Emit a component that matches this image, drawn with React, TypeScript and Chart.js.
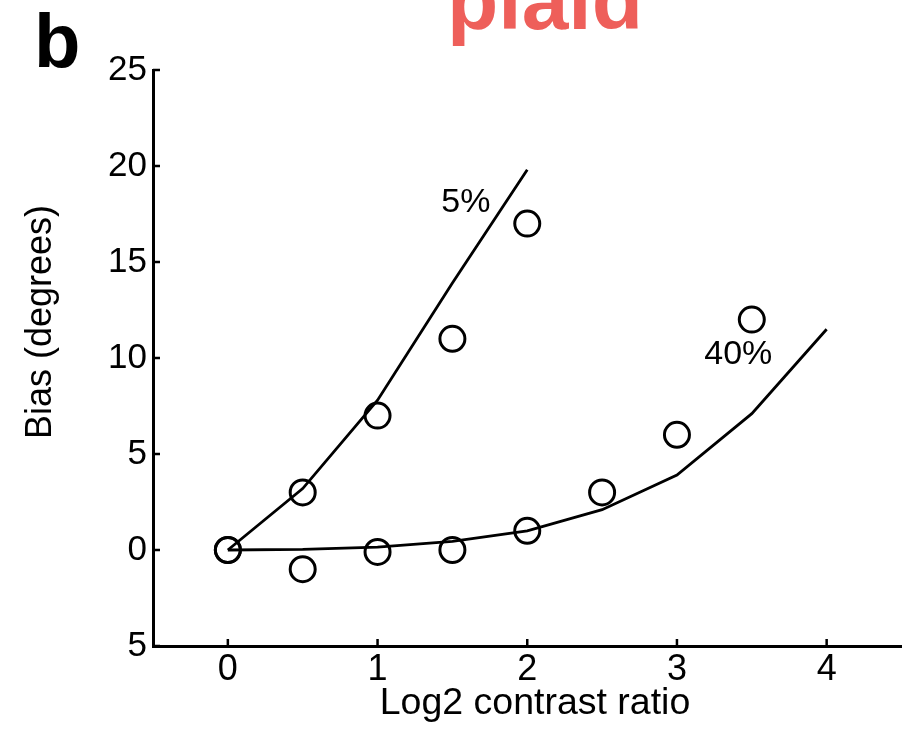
import React, { useEffect, useRef } from "react";
import { Chart, registerables } from "chart.js";

Chart.register(...registerables);

// ---- data ----
const xTicks = [0, 1, 2, 3, 4];
const yTicks = [-5, 0, 5, 10, 15, 20, 25];
const yTickLabels = ["5", "0", "5", "10", "15", "20", "25"];

const fitX5 = [0, 0.5, 1, 1.5, 2];
const fitY5 = [0, 3.2, 7.8, 13.9, 19.8];

const fitX40 = [0, 0.5, 1, 1.5, 2, 2.5, 3, 3.5, 4];
const fitY40 = [0, 0.03, 0.15, 0.45, 1.0, 2.1, 3.9, 7.1, 11.5];

const obsX5 = [0, 0.5, 1, 1.5, 2];
const obsY5 = [0, 3, 7, 11, 17];

const obsX40 = [0, 0.5, 1, 1.5, 2, 2.5, 3, 3.5];
const obsY40 = [0, -1, -0.1, 0, 1, 3, 6, 12];

const curveLabels = ["5%", "40%"];
const curveLabelX = [1.59, 3.41];
const curveLabelY = [18.1, 10.2];

const FONT = "'Liberation Sans', Arial, Helvetica, sans-serif";

const pts = (xs: number[], ys: number[]) => xs.map((x, i) => ({ x, y: ys[i] }));

const annotPlugin = {
  id: "annot",
  afterDraw(chart: any) {
    const ctx = chart.ctx;
    const xs = chart.scales.x;
    const ys = chart.scales.y;
    const area = chart.chartArea;
    ctx.save();
    // inward ticks
    ctx.strokeStyle = "#000";
    ctx.lineWidth = 2.5;
    ctx.beginPath();
    xTicks.forEach((v) => {
      const px = xs.getPixelForValue(v);
      ctx.moveTo(px, area.bottom);
      ctx.lineTo(px, area.bottom - 7);
    });
    yTicks.forEach((v) => {
      const py = ys.getPixelForValue(v);
      ctx.moveTo(area.left, py);
      ctx.lineTo(area.left + 7, py);
    });
    ctx.stroke();

    // curve labels
    ctx.fillStyle = "#000";
    ctx.font = `34px ${FONT}`;
    ctx.textAlign = "center";
    ctx.textBaseline = "middle";
    curveLabels.forEach((t, i) => {
      ctx.fillText(t, xs.getPixelForValue(curveLabelX[i]), ys.getPixelForValue(curveLabelY[i]));
    });

    // x title
    ctx.font = `37.5px ${FONT}`;
    ctx.textAlign = "center";
    ctx.textBaseline = "alphabetic";
    ctx.fillText("Log2 contrast ratio", 535, 714);

    // y title
    ctx.save();
    ctx.translate(41, 322);
    ctx.rotate(-Math.PI / 2);
    ctx.font = `36px ${FONT}`;
    ctx.textAlign = "center";
    ctx.textBaseline = "middle";
    ctx.fillText("Bias (degrees)", 0, 0);
    ctx.restore();

    // panel letter
    ctx.font = `bold 76px ${FONT}`;
    ctx.textAlign = "left";
    ctx.textBaseline = "alphabetic";
    ctx.fillStyle = "#000";
    ctx.fillText("b", 34, 67);

    // title
    ctx.font = `bold 84px ${FONT}`;
    ctx.textAlign = "center";
    ctx.fillStyle = "#EE5F5A";
    ctx.fillText("plaid", 545, 29);
    ctx.restore();
  },
};

export default function App() {
  const ref = useRef<HTMLCanvasElement | null>(null);
  useEffect(() => {
    if (!ref.current) return;
    const chart = new Chart(ref.current, {
      type: "scatter",
      data: {
        datasets: [
          {
            type: "line",
            data: pts(fitX5, fitY5),
            borderColor: "#000",
            borderWidth: 2.8,
            pointRadius: 0,
            tension: 0,
            fill: false,
          },
          {
            type: "line",
            data: pts(fitX40, fitY40),
            borderColor: "#000",
            borderWidth: 2.8,
            pointRadius: 0,
            tension: 0,
            fill: false,
          },
          {
            data: pts(obsX5, obsY5),
            borderColor: "#000",
            backgroundColor: "rgba(0,0,0,0)",
            borderWidth: 3,
            pointRadius: 12.5,
            showLine: false,
          },
          {
            data: pts(obsX40, obsY40),
            borderColor: "#000",
            backgroundColor: "rgba(0,0,0,0)",
            borderWidth: 3,
            pointRadius: 12.5,
            showLine: false,
          },
        ],
      },
      options: {
        animation: false,
        responsive: false,
        devicePixelRatio: 1,
        layout: { padding: { left: 0, top: 70, right: 12, bottom: 0 } },
        plugins: { legend: { display: false }, tooltip: { enabled: false }, title: { display: false } },
        scales: {
          x: {
            type: "linear",
            min: -0.5,
            max: 4.5,
            afterBuildTicks: (s: any) => {
              s.ticks = xTicks.map((v) => ({ value: v }));
            },
            afterFit: (s: any) => {
              s.height = 92;
            },
            grid: { display: false, drawTicks: false },
            border: { display: true, color: "#000", width: 3 },
            ticks: {
              color: "#000",
              font: { family: FONT, size: 36 },
              padding: 2,
              maxRotation: 0,
              autoSkip: false,
            },
            title: { display: false },
          },
          y: {
            type: "linear",
            min: -5,
            max: 25,
            afterBuildTicks: (s: any) => {
              s.ticks = yTicks.map((v) => ({ value: v }));
            },
            afterFit: (s: any) => {
              s.width = 153;
            },
            grid: { display: false, drawTicks: false },
            border: { display: true, color: "#000", width: 3 },
            ticks: {
              color: "#000",
              font: { family: FONT, size: 35 },
              padding: 6,
              autoSkip: false,
              callback: (v: any) => {
                const i = yTicks.indexOf(Number(v));
                return i >= 0 ? yTickLabels[i] : "";
              },
            },
          },
        },
      },
      plugins: [annotPlugin],
    } as any);
    return () => chart.destroy();
  }, []);
  return (
    <div style={{ position: "absolute", left: 0, top: 0, width: 917, height: 738, background: "#fff" }}>
      <canvas ref={ref} width={917} height={738} style={{ display: "block", width: 917, height: 738 }} />
    </div>
  );
}
